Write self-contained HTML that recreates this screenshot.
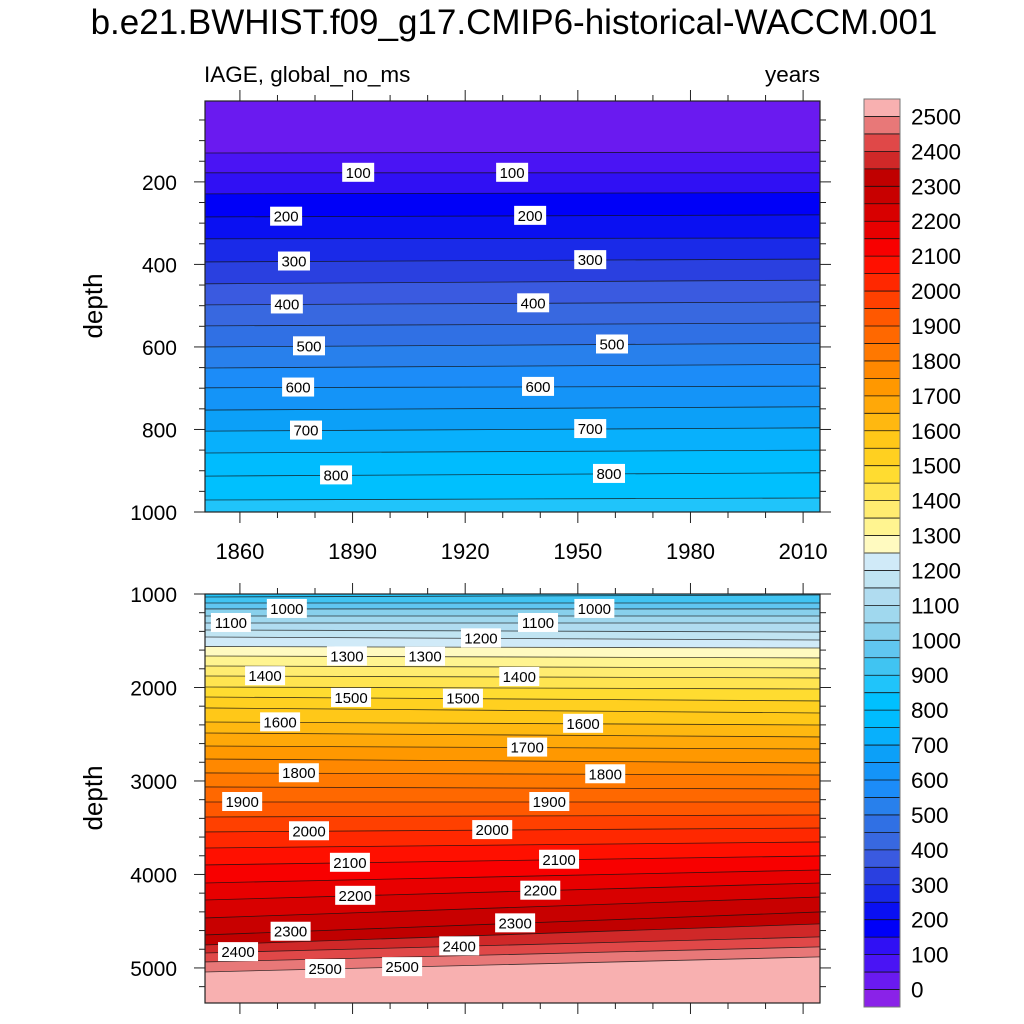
<!DOCTYPE html>
<html><head><meta charset="utf-8">
<style>
html,body{margin:0;padding:0;background:#fff;width:1024px;height:1024px;overflow:hidden;}
svg{display:block;font-family:"Liberation Sans",sans-serif;}
</style></head>
<body>
<svg id="chart" width="1024" height="1024" viewBox="0 0 1024 1024" xmlns="http://www.w3.org/2000/svg">
<text x="514" y="34" text-anchor="middle" font-size="35">b.e21.BWHIST.f09_g17.CMIP6-historical-WACCM.001</text>
<text x="204" y="82" font-size="22.5">IAGE, global_no_ms</text>
<text x="820" y="82" text-anchor="end" font-size="22.5">years</text>
<text transform="translate(102,306) rotate(-90)" text-anchor="middle" font-size="26">depth</text>
<text transform="translate(102,798) rotate(-90)" text-anchor="middle" font-size="26">depth</text>
<g id="top"></g>
<g id="bot"></g>
<g id="xlab"></g>
<g id="cbar"></g>
</svg>
<script>
// contour levels (years) and their depth (m) at the start and end year
const levels = [50,100,150,200,250,300,350,400,450,500,550,600,650,700,750,800,850,900,950,1000,1050,1100,1150,1200,1250,1300,1350,1400,1450,1500,1550,1600,1650,1700,1750,1800,1850,1900,1950,2000,2050,2100,2150,2200,2250,2300,2350,2400,2450,2500];
const depthStart = [130,178,229,285,338,394,447,498,549,600,651,699,753,804,857,913,971,1032,1096,1160,1235,1310,1385,1460,1562,1663,1770,1877,1995,2102,2219,2369,2487,2626,2765,2914,3064,3225,3385,3545,3717,3898,4091,4273,4465,4647,4754,4840,4936,5043];
const depthEnd = [128,178,226,280,336,387,438,491,542,591,642,695,745,796,850,905,966,1011,1096,1160,1235,1310,1407,1492,1578,1684,1791,1898,2016,2144,2273,2401,2529,2658,2807,2936,3086,3225,3364,3503,3652,3802,3952,4091,4241,4401,4529,4668,4775,4882];
const yearStart = 1850.7, yearEnd = 2014.5;
// colour per interval (below 0, 0-50, 50-100, ... , >=2500)
const colors = ["#8a22e8","#6a1af0","#4a14f4","#3010f4","#0000f8","#0a10f2","#1a2ae8","#2a40e0","#3a5ae0","#3868e0","#3070e4","#2880ec","#1c8cf8","#1494f8","#0ca0f8","#08b0fc","#00bcfe","#00c0fe","#20c4fa","#40c4f2","#60c6f0","#88d0ec","#a0d8ee","#b0dcf0","#c0e4f2","#d0eaf8","#fffac0","#fff490","#ffec70","#ffe450","#ffdc30","#ffd020","#ffc818","#ffb810","#ffa808","#ff9800","#ff8800","#ff7800","#ff6800","#ff5800","#ff4000","#ff2800","#ff1000","#f80000","#e80000","#d80000","#c80000","#c00000","#d02828","#e04848","#e87878","#f8b0b0"];
// contour labels: value, year
const topLabelVals = [100,100,200,200,300,300,400,400,500,500,600,600,700,700,800,800];
const topLabelYears = [1891.5,1932.5,1872.3,1937.3,1874.4,1953.3,1872.5,1938.1,1878.4,1959.1,1875.5,1939.4,1877.6,1953.3,1885.6,1958.3];
const botLabelVals = [1000,1000,1100,1100,1200,1300,1300,1400,1400,1500,1500,1600,1600,1700,1800,1800,1900,1900,2000,2000,2100,2100,2200,2200,2300,2300,2400,2400,2500,2500];
const botLabelYears = [1872.5,1954.4,1857.6,1939.4,1924.2,1888.5,1909.3,1866.7,1934.4,1889.6,1919.4,1870.7,1951.4,1936.5,1875.7,1957.3,1860.6,1942.4,1878.4,1927.2,1889.3,1945,1890.7,1940,1873.5,1933.3,1859.5,1918.4,1882.7,1903.2];
const xTicks = [1860,1890,1920,1950,1980,2010];
const cbarLabels = [0,100,200,300,400,500,600,700,800,900,1000,1100,1200,1300,1400,1500,1600,1700,1800,1900,2000,2100,2200,2300,2400,2500];

const NS = "http://www.w3.org/2000/svg";
const X0 = 205, X1 = 820;
const xs = yr => X0 + (yr - yearStart) / (yearEnd - yearStart) * (X1 - X0);
function mk(tag, attrs, parent){const e=document.createElementNS(NS,tag);for(const k in attrs)e.setAttribute(k,attrs[k]);parent.appendChild(e);return e;}
function depthAt(i, yr){const f=(yr-yearStart)/(yearEnd-yearStart);return depthStart[i]+(depthEnd[i]-depthStart[i])*f;}

function panel(g, id, dTop, dBot, yTop, yBot, majorStep, minorStep, majorFrom, labelVals, labelYears){
  const ys = d => yTop + (d - dTop) / (dBot - dTop) * (yBot - yTop);
  const cp = mk('clipPath',{id:id+'clip'},g);
  mk('rect',{x:X0,y:yTop,width:X1-X0,height:yBot-yTop},cp);
  const body = mk('g',{'clip-path':'url(#'+id+'clip)'},g);
  const bg = mk('rect',{x:X0,y:yTop,width:X1-X0,height:yBot-yTop,fill:colors[1]},body);
  
  
  for(let i=0;i<levels.length;i++){
    const a=ys(depthStart[i]), b=ys(depthEnd[i]);
    const p = mk('polygon',{points:`${X0},${a} ${X1},${b} ${X1},${yBot+5} ${X0},${yBot+5}`,fill:colors[i+2],stroke:colors[i+2],'stroke-width':0.3},body);
    
    
  }
  for(let i=0;i<levels.length;i++){
    const l = mk('line',{x1:X0,y1:ys(depthStart[i]),x2:X1,y2:ys(depthEnd[i]),stroke:'#111','stroke-width':0.8,'stroke-opacity':0.8},body);
    
    
  }
  for(let j=0;j<labelVals.length;j++){
    const i = levels.indexOf(labelVals[j]);
    const cx = xs(labelYears[j]), cy = ys(depthAt(i,labelYears[j]));
    const w = labelVals[j]>=1000?40:32;
    const r = mk('rect',{x:cx-w/2,y:cy-10,width:w,height:19,fill:'#fff'},body);
    
    
    const t = mk('text',{x:cx,y:cy+5,'text-anchor':'middle','font-size':15},body);
    
    
    t.textContent = labelVals[j];
  }
  const fr = mk('rect',{x:X0,y:yTop,width:X1-X0,height:yBot-yTop,fill:'none',stroke:'#222','stroke-width':1.2},g);
  
  
  for(let yr=1860; yr<=2010; yr+=10){
    const x = xs(yr), len = (yr-1860)%30===0?11:6;
    mk('line',{x1:x,y1:yTop,x2:x,y2:yTop-len,stroke:'#222','stroke-width':1},g);
    mk('line',{x1:x,y1:yBot,x2:x,y2:yBot+len,stroke:'#222','stroke-width':1},g);
  }
  const start = Math.ceil(dTop/minorStep)*minorStep;
  for(let d=start; d<=dBot; d+=minorStep){
    const y=ys(d), maj = (d-majorFrom)%majorStep===0 && d>=majorFrom, len = maj?11:6;
    mk('line',{x1:X0,y1:y,x2:X0-len,y2:y,stroke:'#222','stroke-width':1},g);
    mk('line',{x1:X1,y1:y,x2:X1+len,y2:y,stroke:'#222','stroke-width':1},g);
    if(maj){
      const t = mk('text',{x:177,y:y+8,'text-anchor':'end','font-size':21},g);
      
      
      t.textContent = d;
    }
  }
}
panel(document.getElementById('top'),'top',4,1000,101,512,200,50,200,topLabelVals,topLabelYears);
panel(document.getElementById('bot'),'bot',1000,5375,594,1003,1000,200,1000,botLabelVals,botLabelYears);

const xl = document.getElementById('xlab');
xTicks.forEach(yr=>{
  const t = mk('text',{x:xs(yr),y:559,'text-anchor':'middle','font-size':22},xl);
  
  
  t.textContent = yr;
});

const cb = document.getElementById('cbar');
const CB0=99, CB1=1007, n=colors.length, bh=(CB1-CB0)/n;
for(let i=0;i<n;i++){
  const r = mk('rect',{x:864,y:CB1-(i+1)*bh,width:36,height:bh+0.3,fill:colors[i]},cb);
  
  
  if(i>0) mk('line',{x1:864,y1:CB1-i*bh,x2:900,y2:CB1-i*bh,stroke:'#111','stroke-width':0.8},cb);
}
mk('rect',{x:864,y:CB0,width:36,height:CB1-CB0,fill:'none',stroke:'#777','stroke-width':1},cb);
cbarLabels.forEach(v=>{
  const y = CB1-(v/50+1)*bh;
  const t = mk('text',{x:911,y:y+8,'font-size':22.5},cb);
  
  
  t.textContent = v;
});
</script>
</body></html>
